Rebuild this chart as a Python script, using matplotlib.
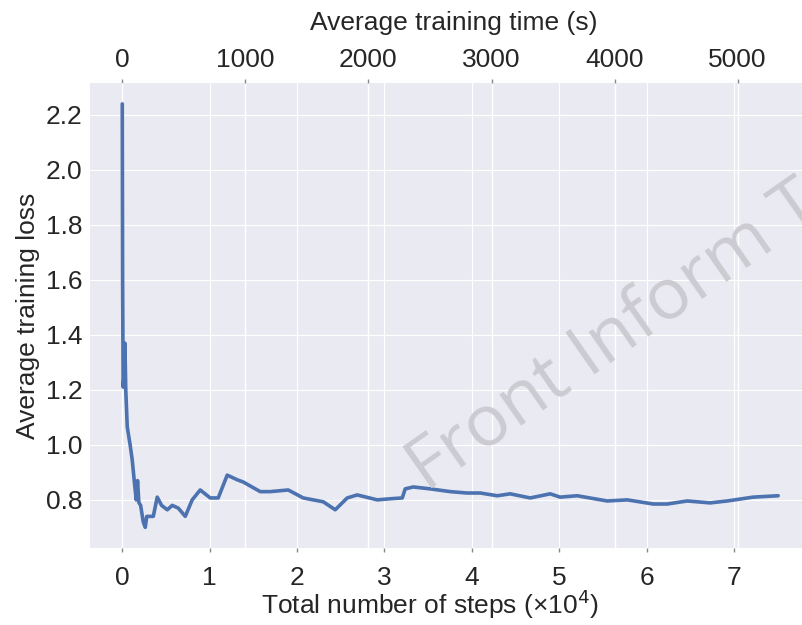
import numpy as np
import matplotlib
matplotlib.use("Agg")
import matplotlib.pyplot as plt
import seaborn as sns

# training curve (steps in units of 1e4)
steps = [0.0, 0.004, 0.01, 0.02, 0.03, 0.04, 0.057, 0.09, 0.114, 0.14, 0.16,
         0.175, 0.19, 0.21, 0.24, 0.263, 0.28, 0.297, 0.355, 0.40, 0.45,
         0.515, 0.572, 0.641, 0.721, 0.80, 0.892, 1.007, 1.098, 1.201,
         1.316, 1.384, 1.579, 1.693, 1.899, 2.071, 2.30, 2.437, 2.574,
         2.689, 2.918, 3.066, 3.204, 3.238, 3.33, 3.524, 3.753, 3.947,
         4.096, 4.291, 4.439, 4.668, 4.897, 5.011, 5.206, 5.549, 5.778,
         6.076, 6.236, 6.465, 6.728, 6.922, 7.22, 7.506]
loss = [2.24, 1.60, 1.21, 1.25, 1.37, 1.20, 1.065, 1.00, 0.945, 0.86, 0.80,
        0.87, 0.79, 0.78, 0.72, 0.70, 0.74, 0.74, 0.74, 0.81, 0.78,
        0.764, 0.78, 0.77, 0.74, 0.80, 0.836, 0.807, 0.807, 0.89,
        0.873, 0.865, 0.83, 0.83, 0.836, 0.807, 0.793, 0.764, 0.807,
        0.818, 0.80, 0.804, 0.807, 0.84, 0.847, 0.84, 0.83, 0.825,
        0.825, 0.815, 0.822, 0.807, 0.822, 0.81, 0.815, 0.796, 0.80,
        0.785, 0.785, 0.796, 0.789, 0.796, 0.81, 0.815]

# seconds of training per 1e4 steps (from the top axis)
sec_per_unit = 710.0
time_ticks = [0, 1000, 2000, 3000, 4000, 5000]

sns.set_style("darkgrid")
plt.rcParams['font.family'] = ['Liberation Sans', 'DejaVu Sans']

fig = plt.figure(figsize=(8.03, 6.25), dpi=100)
ax = fig.add_axes([0.112, 0.1232, 0.888, 0.744])
ax2 = ax.twiny()

ax.plot(steps, loss, color='#4c72b0', lw=2.6)

xlim = (-0.37, 7.79)
ax.set_xlim(xlim)
ax.set_ylim(0.625, 2.316)
ax.set_xticks(range(8))
ax.set_yticks([0.8, 1.0, 1.2, 1.4, 1.6, 1.8, 2.0, 2.2])
ax.set_yticklabels(['0.8', '1.0', '1.2', '1.4', '1.6', '1.8', '2.0', '2.2'])

ax2.set_xlim(xlim[0] * sec_per_unit, xlim[1] * sec_per_unit)
ax2.set_xticks(time_ticks)

# twin axis carries the background, main axis sits on top of it
ax.set_zorder(ax2.get_zorder() + 1)
ax.patch.set_visible(False)
ax2.patch.set_visible(True)
ax2.patch.set_facecolor('#EAEAF2')
ax2.grid(True, axis='x', color='white', lw=1.0)
ax2.grid(False, axis='y')

ax.tick_params(axis='x', bottom=True, length=3, width=1, color='#888888',
               labelsize=19, pad=10)
ax.tick_params(axis='y', left=False, labelsize=19, pad=2)
ax2.tick_params(axis='x', top=True, length=3, width=1, color='#888888',
                labelsize=19, pad=5)

ax.set_xlabel('Total number of steps (×10$^4$)', fontsize=19)
ax.xaxis.set_label_coords(0.477, -0.086)
ax.set_ylabel('Average training loss', fontsize=19, labelpad=4)
ax2.set_xlabel('Average training time (s)', fontsize=19)
ax2.xaxis.set_label_coords(0.51, 1.114)

for a in (ax, ax2):
    for s in a.spines.values():
        s.set_visible(False)

# watermark
fig.text(427 / 803, 1 - 493 / 625, 'Front Inform T', fontsize=52,
         family='Open Sans', color='#cbcbd1', rotation=35,
         rotation_mode='anchor', ha='left', va='baseline', zorder=5)

fig.savefig('out.png', dpi=100)
